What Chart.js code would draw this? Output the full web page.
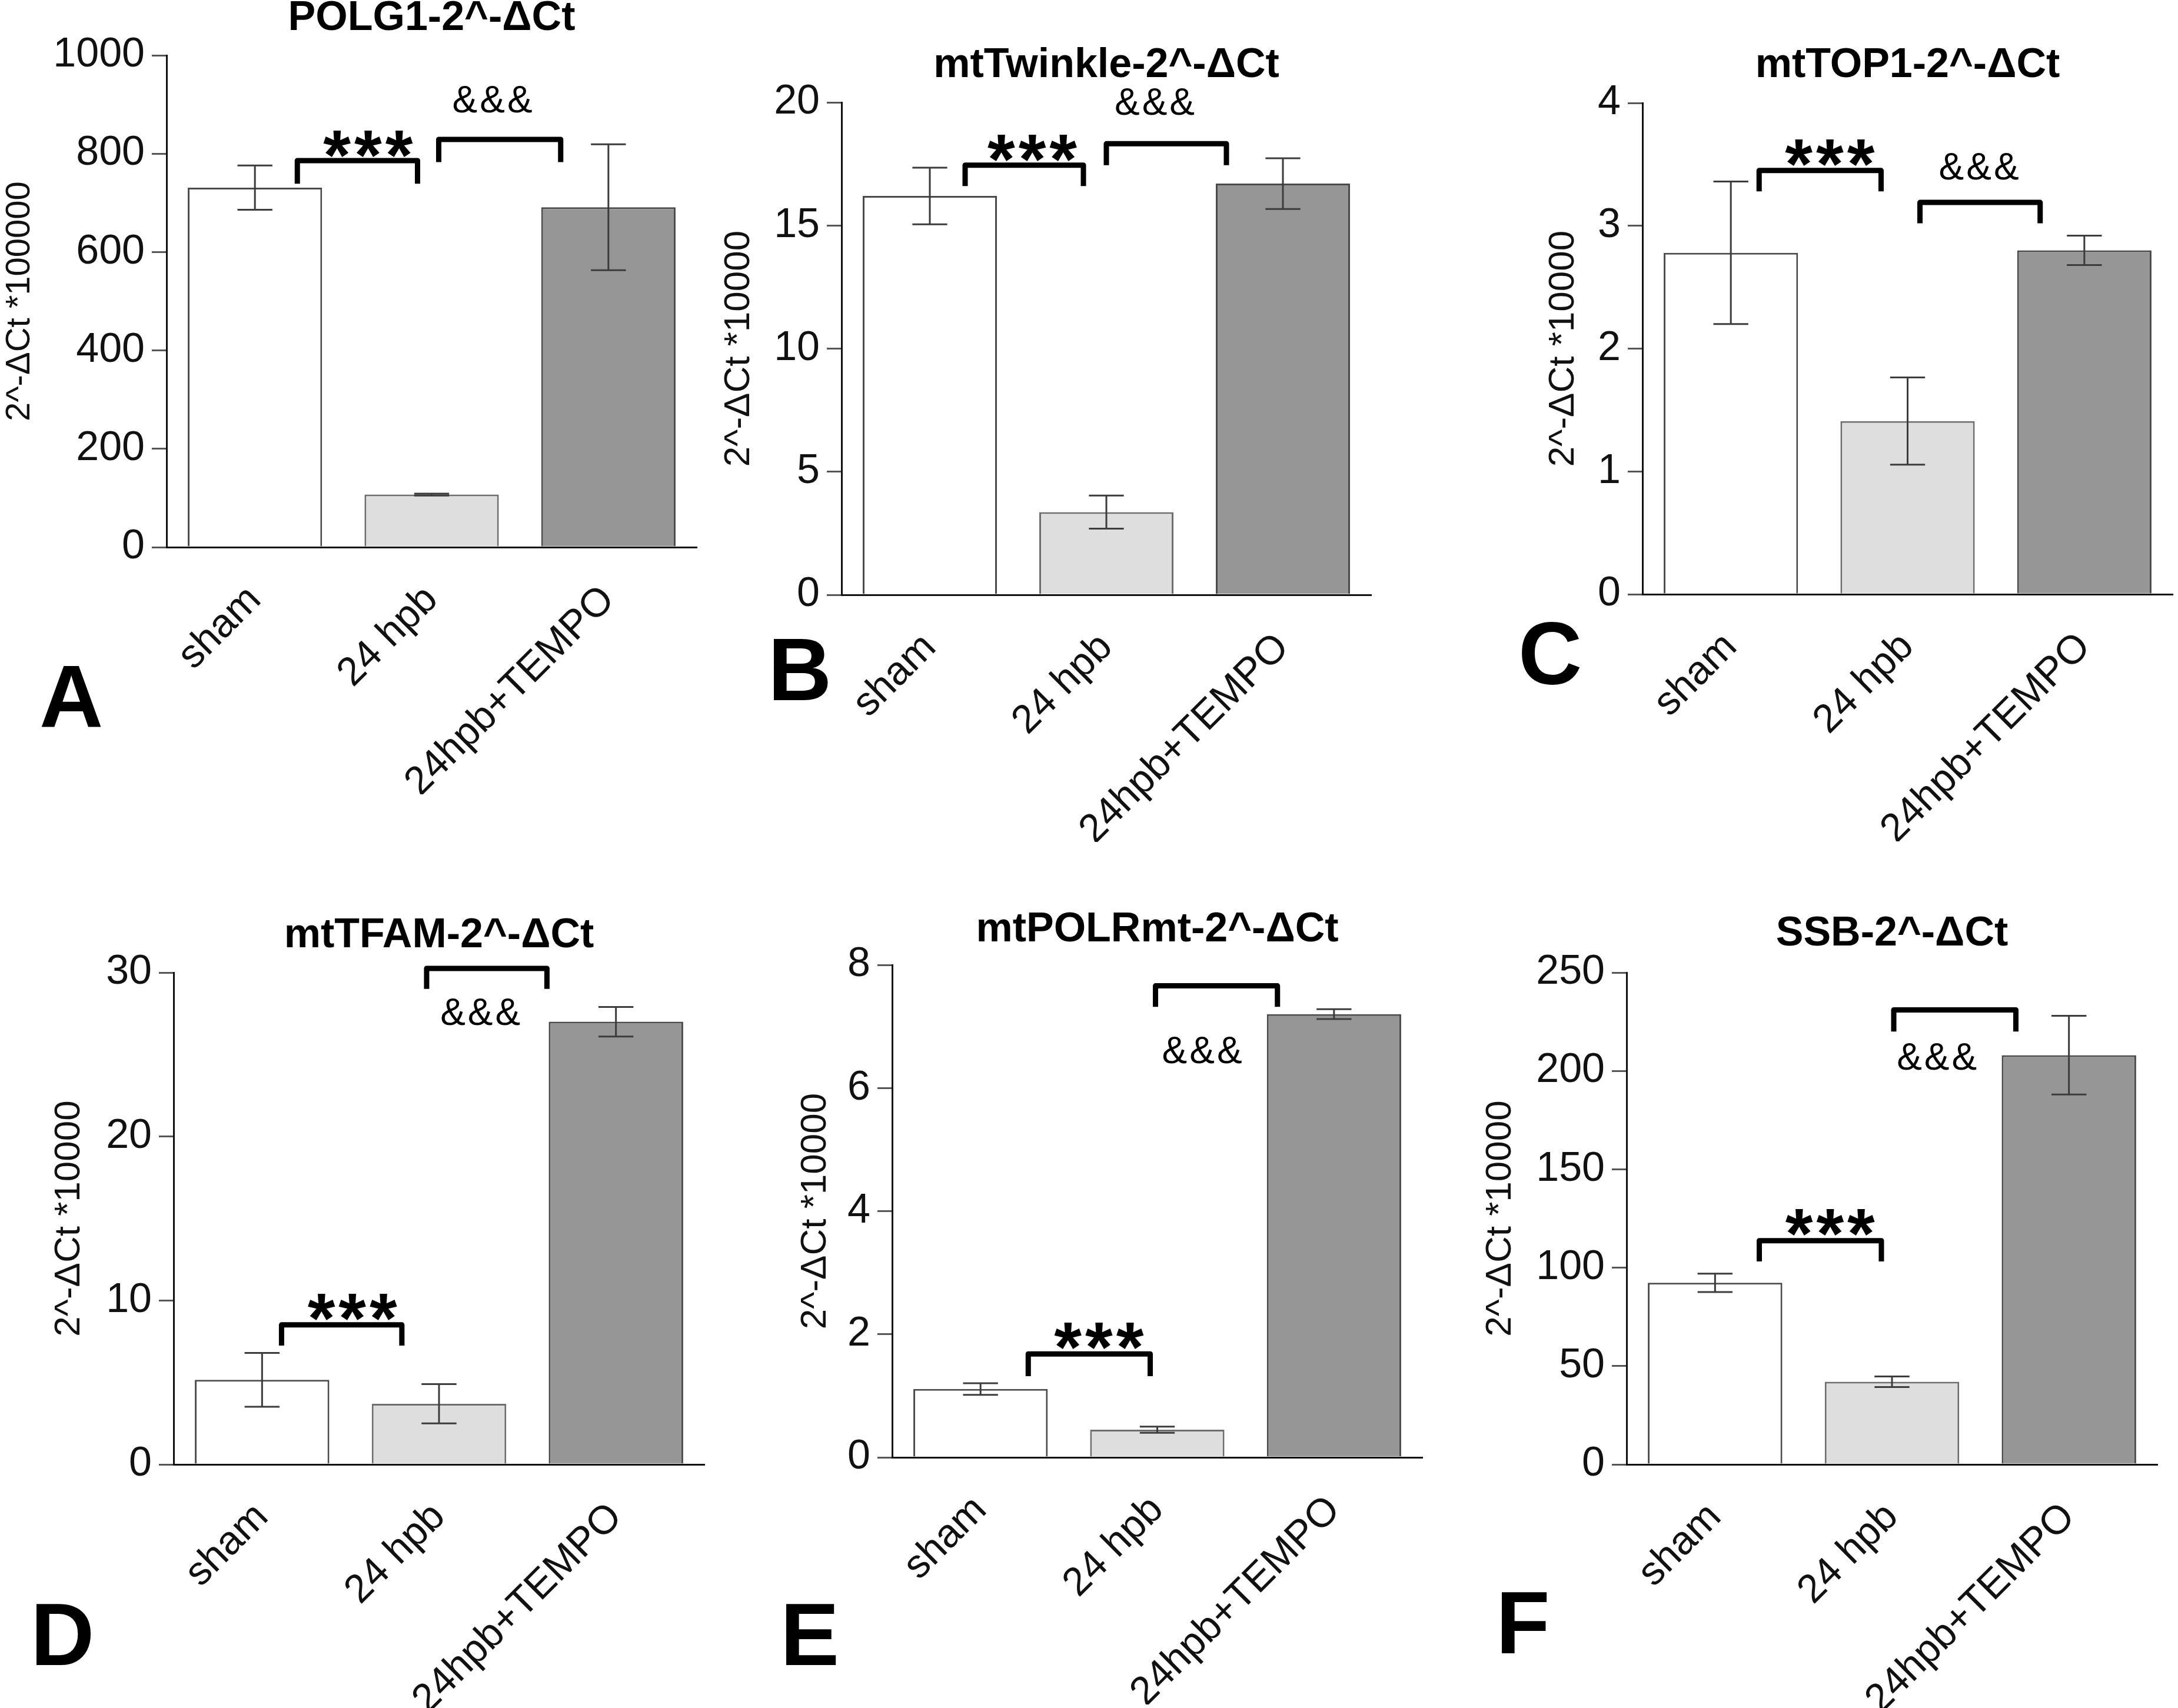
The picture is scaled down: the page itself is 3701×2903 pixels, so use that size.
<!DOCTYPE html>
<html>
<head>
<meta charset="utf-8">
<script src="https://cdn.jsdelivr.net/npm/chart.js@4/dist/chart.umd.min.js"></script>
<style>
  html, body { margin:0; padding:0; background:#fff; }
  body { width:3701px; height:2903px; position:relative; overflow:hidden; }
  canvas { position:absolute; }
  .panel-letter { position:absolute; font-family:'Liberation Sans Narrow','Liberation Sans',Arial,sans-serif;
    font-weight:bold; font-size:150px; line-height:150px; color:#000; }
</style>
</head>
<body>
<script>
// ---------------- DATA ----------------
const categories = ['sham', '24 hpb', '24hpb+TEMPO'];

const polg1Mean  = [731, 107, 691];
const polg1Err   = [45, 2, 128];
const polg1Ticks = [0, 200, 400, 600, 800, 1000];

const twinkleMean  = [16.2, 3.36, 16.7];
const twinkleErr   = [1.15, 0.67, 1.03];
const twinkleTicks = [0, 5, 10, 15, 20];

const top1Mean  = [2.78, 1.41, 2.80];
const top1Err   = [0.58, 0.355, 0.12];
const top1Ticks = [0, 1, 2, 3, 4];

const tfamMean  = [5.16, 3.7, 27.0];
const tfamErr   = [1.64, 1.2, 0.9];
const tfamTicks = [0, 10, 20, 30];

const polrmtMean  = [1.11, 0.45, 7.2];
const polrmtErr   = [0.095, 0.05, 0.08];
const polrmtTicks = [0, 2, 4, 6, 8];

const ssbMean  = [92.3, 42, 208];
const ssbErr   = [4.7, 2.7, 20];
const ssbTicks = [0, 50, 100, 150, 200, 250];

const panelTitles = ['POLG1-2^-ΔCt', 'mtTwinkle-2^-ΔCt', 'mtTOP1-2^-ΔCt',
                     'mtTFAM-2^-ΔCt', 'mtPOLRmt-2^-ΔCt', 'SSB-2^-ΔCt'];
const yAxisTitles = ['2^-ΔCt *100000', '2^-ΔCt *10000', '2^-ΔCt *10000',
                     '2^-ΔCt *10000', '2^-ΔCt *10000', '2^-ΔCt *10000'];
const panelLetters = ['A', 'B', 'C', 'D', 'E', 'F'];

// significance brackets (category-index / value units)
const sigPOLG1  = [{t:'***', from:0.24, to:0.92, top:786, leg:739, tx:0.65, ty:831},
                   {t:'&&&', from:1.04, to:1.73, top:829, leg:783, tx:1.35, ty:911}];
const sigTwinkle= [{t:'***', from:0.20, to:0.87, top:17.45, leg:16.6, tx:0.59, ty:18.37},
                   {t:'&&&', from:1.00, to:1.68, top:18.32, leg:17.45, tx:1.28, ty:20.05}];
const sigTOP1   = [{t:'***', from:0.16, to:0.85, top:3.45, leg:3.28, tx:0.57, ty:3.64},
                   {t:'&&&', from:1.07, to:1.75, top:3.19, leg:3.02, tx:1.41, ty:3.49}];
const sigTFAM   = [{t:'***', from:0.11, to:0.79, top:8.51, leg:7.25, tx:0.52, ty:9.94},
                   {t:'&&&', from:0.93, to:1.61, top:30.25, leg:29.0, tx:1.24, ty:27.64}];
const sigPOLRmt = [{t:'***', from:0.27, to:0.96, top:1.68, leg:1.32, tx:0.68, ty:2.06},
                   {t:'&&&', from:0.99, to:1.68, top:7.66, leg:7.32, tx:1.26, ty:6.62}];
const sigSSB    = [{t:'***', from:0.25, to:0.94, top:113.7, leg:103.2, tx:0.66, ty:125.8},
                   {t:'&&&', from:1.01, to:1.70, top:231, leg:220, tx:1.26, ty:207.6}];

const panelData = [
  {mean: polg1Mean,   err: polg1Err,   ticks: polg1Ticks,   sig: sigPOLG1},
  {mean: twinkleMean, err: twinkleErr, ticks: twinkleTicks, sig: sigTwinkle},
  {mean: top1Mean,    err: top1Err,    ticks: top1Ticks,    sig: sigTOP1},
  {mean: tfamMean,    err: tfamErr,    ticks: tfamTicks,    sig: sigTFAM},
  {mean: polrmtMean,  err: polrmtErr,  ticks: polrmtTicks,  sig: sigPOLRmt},
  {mean: ssbMean,     err: ssbErr,     ticks: ssbTicks,     sig: sigSSB}
];

// ---------------- LAYOUT (page pixels) ----------------
const frames = [
  {axisX:283,  topY:94,   zeroY:930,  right:1184, titleY:32,   yTitleX:34,   yTitleSize:58},
  {axisX:1430, topY:174,  zeroY:1011, right:2330, titleY:112,  yTitleX:1256, yTitleSize:62},
  {axisX:2791, topY:175,  zeroY:1010, right:3692, titleY:112,  yTitleX:2657, yTitleSize:62},
  {axisX:295,  topY:1653, zeroY:2489, right:1197, titleY:1591, yTitleX:118,  yTitleSize:62},
  {axisX:1516, topY:1640, zeroY:2477, right:2417, titleY:1581, yTitleX:1386, yTitleSize:62},
  {axisX:2764, topY:1653, zeroY:2489, right:3666, titleY:1588, yTitleX:2550, yTitleSize:62}
];
const letterPos = [
  {x:67, base:1235}, {x:1305, base:1190}, {x:2580, base:1163},
  {x:52, base:2830}, {x:1326, base:2830}, {x:2542, base:2810}
];

const FONT = "'Liberation Sans', Arial, Helvetica, sans-serif";
const TITLE_SIZE = 70;
const XAXIS_H = 420;
const PAD_R = 20;

const sigPlugin = {
  id: 'sigPlugin',
  afterDatasetsDraw(chart, args, opts) {
    const ctx = chart.ctx;
    const xs = chart.scales.x, ys = chart.scales.y;
    const meta = chart.getDatasetMeta(0);
    const vals = chart.data.datasets[0].data;
    ctx.save();
    // error bars
    ctx.strokeStyle = '#3c3c3c';
    ctx.lineWidth = 3;
    meta.data.forEach((bar, i) => {
      const v = vals[i], e = opts.errors[i];
      const xc = bar.x;
      const yT = ys.getPixelForValue(v + e), yB = ys.getPixelForValue(v - e);
      const cw = bar.width * 0.13;
      ctx.beginPath();
      ctx.moveTo(xc, yT); ctx.lineTo(xc, yB);
      ctx.moveTo(xc - cw, yT); ctx.lineTo(xc + cw, yT);
      ctx.moveTo(xc - cw, yB); ctx.lineTo(xc + cw, yB);
      ctx.stroke();
    });
    // brackets + labels
    for (const m of opts.marks) {
      const x0 = xs.getPixelForValue(m.from), x1 = xs.getPixelForValue(m.to);
      const yt = ys.getPixelForValue(m.top), yl = ys.getPixelForValue(m.leg);
      ctx.strokeStyle = '#000';
      ctx.lineWidth = 9;
      ctx.lineJoin = 'round';
      ctx.lineCap = 'butt';
      ctx.beginPath();
      ctx.moveTo(x0, yl); ctx.lineTo(x0, yt); ctx.lineTo(x1, yt); ctx.lineTo(x1, yl);
      ctx.stroke();
      const star = m.t === '***';
      const size = star ? 120 : 64;
      ctx.font = (star ? 'bold ' : '') + size + 'px ' + FONT;
      try { ctx.letterSpacing = star ? '6px' : '4px'; } catch (e) {}
      ctx.fillStyle = '#000';
      ctx.textAlign = 'center';
      ctx.textBaseline = 'alphabetic';
      const ty = ys.getPixelForValue(m.ty) + (star ? 0.58 : 0.36) * size;
      ctx.fillText(m.t, xs.getPixelForValue(m.tx), ty);
    }
    ctx.restore();
  }
};

frames.forEach((f, k) => {
  const d = panelData[k];
  const left = f.yTitleX - f.yTitleSize / 2;
  const top = f.titleY - TITLE_SIZE / 2;
  const wl = f.axisX - left;
  const plotW = f.right - f.axisX;
  const plotH = f.zeroY - f.topY;
  const padB = f.topY - f.titleY - TITLE_SIZE / 2;
  const W = Math.round(wl + plotW + PAD_R);
  const H = Math.round((f.topY - top) + plotH + XAXIS_H);

  const cv = document.createElement('canvas');
  cv.width = W; cv.height = H;
  cv.style.left = left + 'px'; cv.style.top = top + 'px';
  cv.style.width = W + 'px'; cv.style.height = H + 'px';
  document.body.appendChild(cv);

  const t = d.ticks;
  new Chart(cv, {
    type: 'bar',
    data: {
      labels: categories,
      datasets: [{
        data: d.mean,
        backgroundColor: ['#ffffff', '#dedede', '#969696'],
        borderColor: ['#4a4a4a', '#6e6e6e', '#4a4a4a'],
        borderWidth: 3,
        barPercentage: 0.76,
        categoryPercentage: 1.0
      }]
    },
    options: {
      responsive: false,
      devicePixelRatio: 1,
      animation: false,
      layout: { padding: { top: 0, right: PAD_R, bottom: 0, left: 0 } },
      plugins: {
        legend: { display: false },
        tooltip: { enabled: false },
        title: {
          display: true, text: panelTitles[k], fullSize: false,
          color: '#000',
          font: { family: FONT, size: TITLE_SIZE, weight: 'bold', lineHeight: 1 },
          padding: { top: 0, bottom: padB }
        },
        sigPlugin: { errors: d.err, marks: d.sig }
      },
      scales: {
        x: {
          grid: { display: false, drawTicks: false },
          border: { display: true, color: '#111', width: 3 },
          ticks: { color: '#111', font: { family: FONT, size: 68 }, padding: 50,
                   minRotation: 45, maxRotation: 45, autoSkip: false },
          afterFit(s) { s.height = XAXIS_H; }
        },
        y: {
          min: t[0], max: t[t.length - 1],
          grid: { display: true, drawOnChartArea: false, drawTicks: true, tickLength: 25,
                  color: '#555', lineWidth: 3 },
          border: { display: true, color: '#111', width: 3 },
          ticks: { stepSize: t[1] - t[0], color: '#111', padding: 12,
                   font: { family: FONT, size: 70 },
                   callback: (v) => String(v) },
          title: { display: true, text: yAxisTitles[k], color: '#111', padding: 0,
                   font: { family: FONT, size: f.yTitleSize, lineHeight: 1 } },
          afterFit(s) { s.width = wl; }
        }
      }
    },
    plugins: [sigPlugin]
  });
});

letterPos.forEach((p, k) => {
  const el = document.createElement('div');
  el.className = 'panel-letter';
  el.textContent = panelLetters[k];
  el.style.left = p.x + 'px';
  el.style.top = (p.base - 127) + 'px';
  document.body.appendChild(el);
});
</script>
</body>
</html>
